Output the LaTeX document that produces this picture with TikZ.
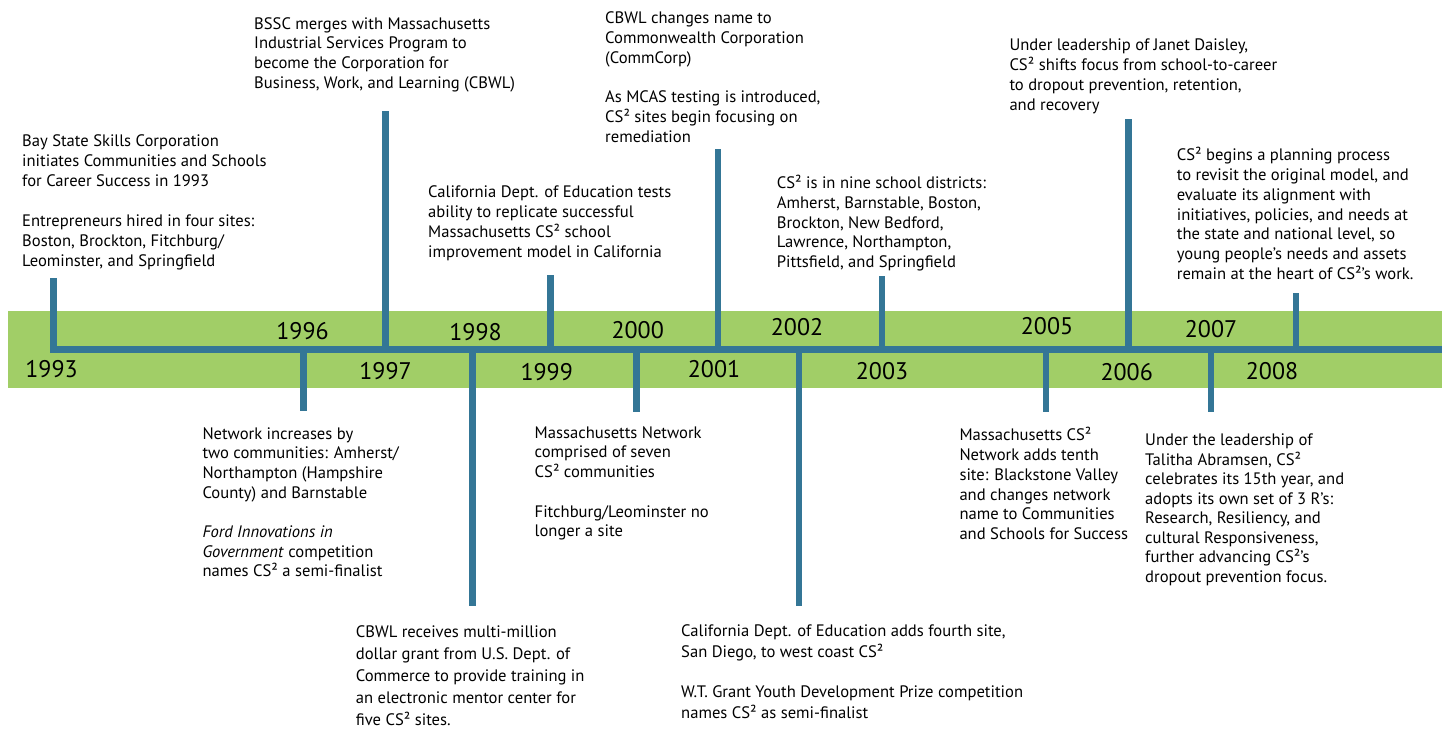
\documentclass[tikz,border=0pt]{standalone}
\usepackage{fontspec}
\setmainfont{PT Sans}
\definecolor{band}{RGB}{161,206,103}
\definecolor{tl}{RGB}{52,118,150}
\tikzset{
  ev/.style={anchor=north west, align=left, inner sep=0pt, font=\fontsize{16.6}{19.8}\selectfont,
    yshift=-1.8pt, execute at begin node=\rule{0pt}{14pt}},
  yr/.style={inner sep=0pt, font=\fontsize{24}{28}\selectfont},
  tick/.style={draw=tl, line width=6.8pt},
}
\begin{document}
\begin{tikzpicture}[x=1pt,y=-1pt]
\useasboundingbox (0,0) rectangle (1442,728);
\fill[band] (8,311) rectangle (1442,388);
% axis
\coordinate (top1993) at (53.5,278);
\coordinate (ax1993) at (53.5,349.3);
\coordinate (axend) at (1442,349.3);
\draw[tick, line join=miter] (top1993) -- (ax1993) -- (axend);
% tick coordinates
\foreach \n/\x/\y in {1996/303.5/411, 1997/385.5/110.5, 1998/472.5/606, 1999/550.5/275,
  2000/636.5/411.5, 2001/718/148.5, 2002/799/606, 2003/882/275.5, 2005/1046/411.5,
  2006/1128.5/118.5, 2007/1211/411.5, 2008/1296/292.5}{
  \coordinate (ax\n) at (\x,349.3);
  \coordinate (end\n) at (\x,\y);
}
\foreach \n in {1996,1997,1998,1999,2000,2001,2002,2003,2005,2006,2007,2008}{
  \draw[tick] (ax\n) -- (end\n);
}
% year labels
\node[yr] (y1993) at (51.5,369.5) {1993};
\node[yr] (y1996) at (302.5,331.5) {1996};
\node[yr] (y1997) at (385.5,371) {1997};
\node[yr] (y1998) at (475.5,332) {1998};
\node[yr] (y1999) at (546.7,372) {1999};
\node[yr] (y2000) at (637.7,330) {2000};
\node[yr] (y2001) at (714,368.7) {2001};
\node[yr] (y2002) at (797,327.5) {2002};
\node[yr] (y2003) at (882,371) {2003};
\node[yr] (y2005) at (1047,326.5) {2005};
\node[yr] (y2006) at (1126.7,372.3) {2006};
\node[yr] (y2007) at (1211,329) {2007};
\node[yr] (y2008) at (1272,371.5) {2008};
% event texts (coordinate y = first baseline - 14)
\node[ev] (t1993) at (22,133) {Bay State Skills Corporation\\
initiates Communities and Schools\\
for Career Success in 1993\\[20.5pt]
Entrepreneurs hired in four sites:\\
Boston, Brockton, Fitchburg/\\
Leominster, and Springfield};
\node[ev] (t1997) at (254,15.3) {BSSC merges with Massachusetts\\
Industrial Services Program to\\
become the Corporation for\\
Business, Work, and Learning (CBWL)};
\node[ev] (t1999) at (428,184) {California Dept. of Education tests\\
ability to replicate successful\\
Massachusetts CS² school\\
improvement model in California};
\node[ev] (t2001) at (605,9.7) {CBWL changes name to\\
Commonwealth Corporation\\
(CommCorp)\\[19.5pt]
As MCAS testing is introduced,\\
CS² sites begin focusing on\\
remediation};
\node[ev] (t2003) at (776.7,173) {CS² is in nine school districts:\\
Amherst, Barnstable, Boston,\\
Brockton, New Bedford,\\
Lawrence, Northampton,\\
Pittsfield, and Springfield};
\node[ev] (t2006) at (1009.3,37) {Under leadership of Janet Daisley,\\
CS² shifts focus from school-to-career\\
to dropout prevention, retention,\\
and recovery};
\node[ev] (t2008) at (1176.7,145.3) {CS² begins a planning process\\
to revisit the original model, and\\
evaluate its alignment with\\
initiatives, policies, and needs at\\
the state and national level, so\\
young people’s needs and assets\\
remain at the heart of CS²’s work.};
\node[ev] (t1996) at (202.3,425.3) {Network increases by\\
two communities: Amherst/\\
Northampton (Hampshire\\
County) and Barnstable\\[19pt]
\textit{Ford Innovations in}\\
\textit{Government} competition\\
names CS² a semi-finalist};
\node[ev, font=\fontsize{16.6}{22}\selectfont] (t1998) at (355.7,623.5) {CBWL receives multi-million\\
dollar grant from U.S. Dept. of\\
Commerce to provide training in\\
an electronic mentor center for\\
five CS² sites.};
\node[ev] (t2000) at (534.5,424.3) {Massachusetts Network\\
comprised of seven\\
CS² communities\\[19.5pt]
Fitchburg/Leominster no\\
longer a site};
\node[ev, font=\fontsize{16.6}{21.5}\selectfont] (t2002) at (681,622.5) {California Dept. of Education adds fourth site,\\
San Diego, to west coast CS²\\[18pt]
W.T. Grant Youth Development Prize competition\\
names CS² as semi-finalist};
\node[ev] (t2005) at (959.3,425.3) {Massachusetts CS²\\
Network adds tenth\\
site: Blackstone Valley\\
and changes network\\
name to Communities\\
and Schools for Success};
\node[ev, font=\fontsize{16.6}{19.5}\selectfont] (t2007) at (1145,432) {Under the leadership of\\
Talitha Abramsen, CS²\\
celebrates its 15th year, and\\
adopts its own set of 3 R’s:\\
Research, Resiliency, and\\
cultural Responsiveness,\\
further advancing CS²’s\\
dropout prevention focus.};
\end{tikzpicture}
\end{document}
